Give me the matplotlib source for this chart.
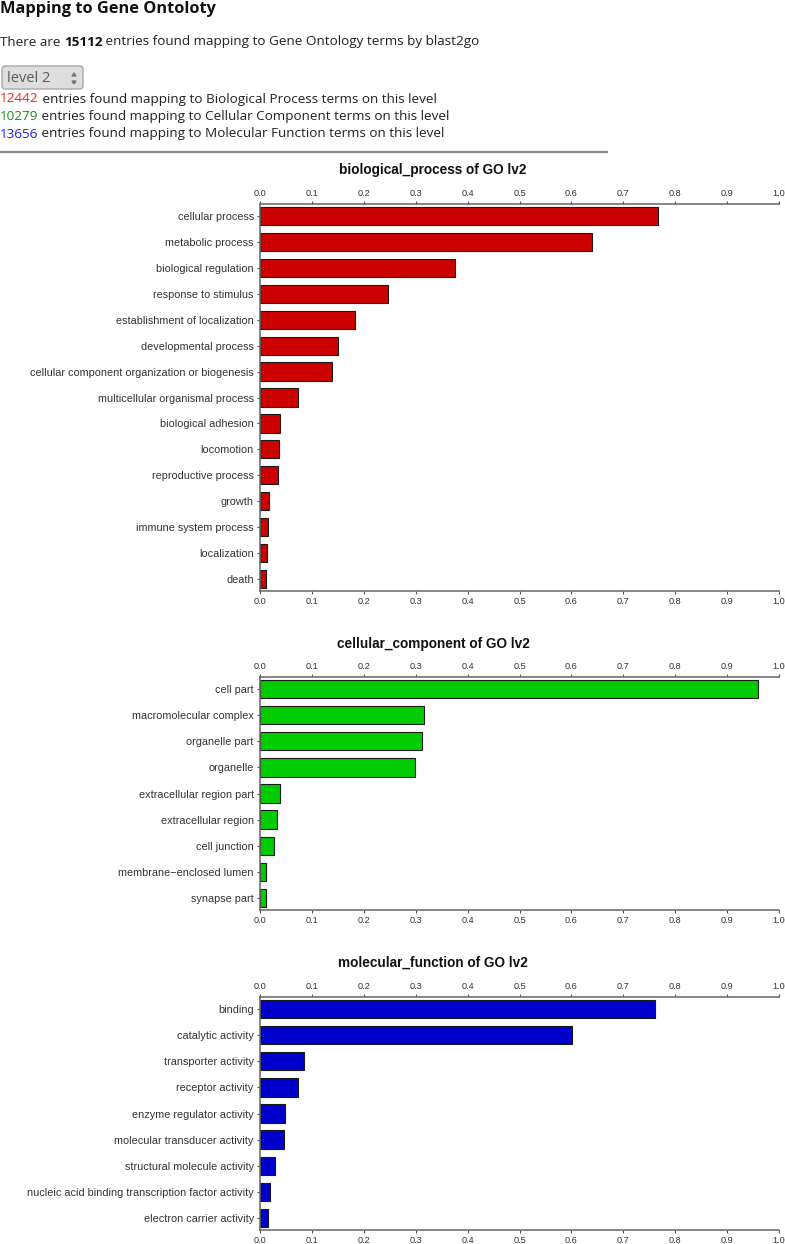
import matplotlib
matplotlib.use("Agg")
import matplotlib.pyplot as plt
from matplotlib import font_manager
from matplotlib.patches import FancyBboxPatch, Polygon
from matplotlib.lines import Line2D
from matplotlib.transforms import IdentityTransform

W, H = 785, 1244

# ---- data ----
bp_terms = ["cellular process", "metabolic process", "biological regulation",
            "response to stimulus", "establishment of localization",
            "developmental process", "cellular component organization or biogenesis",
            "multicellular organismal process", "biological adhesion", "locomotion",
            "reproductive process", "growth", "immune system process",
            "localization", "death"]
bp_values = [0.767, 0.639, 0.376, 0.246, 0.184, 0.150, 0.139, 0.074,
             0.039, 0.037, 0.034, 0.018, 0.016, 0.014, 0.012]

cc_terms = ["cell part", "macromolecular complex", "organelle part", "organelle",
            "extracellular region part", "extracellular region", "cell junction",
            "membrane\u2212enclosed lumen", "synapse part"]
cc_values = [0.959, 0.316, 0.312, 0.299, 0.039, 0.033, 0.027, 0.012, 0.012]

mf_terms = ["binding", "catalytic activity", "transporter activity",
            "receptor activity", "enzyme regulator activity",
            "molecular transducer activity", "structural molecule activity",
            "nucleic acid binding transcription factor activity",
            "electron carrier activity"]
mf_values = [0.762, 0.602, 0.085, 0.073, 0.048, 0.046, 0.028, 0.020, 0.015]

x_ticks = [0.0, 0.1, 0.2, 0.3, 0.4, 0.5, 0.6, 0.7, 0.8, 0.9, 1.0]
x_tick_labels = ["0.0", "0.1", "0.2", "0.3", "0.4", "0.5", "0.6", "0.7", "0.8", "0.9", "1.0"]

total_entries = "15112"
level_counts = ["12442", "10279", "13656"]
level_names = ["Biological Process", "Cellular Component", "Molecular Function"]
level_colors = ["#ff1f1f", "#1e8c1e", "#1c1ced"]

# ---- fonts ----
names = {f.name for f in font_manager.fontManager.ttflist}
if "Liberation Sans Narrow" in names:
    LAB_FONT, lab_size, tick_size = "Liberation Sans Narrow", 9.3, 7.2
else:
    LAB_FONT, lab_size, tick_size = "Liberation Sans", 7.8, 6.6
HEAD_FONT = ["Open Sans", "DejaVu Sans"]


def fx(px):
    return px / W


def fy(py):
    return 1 - py / H


fig = plt.figure(figsize=(W / 100, H / 100), dpi=100)
renderer = fig.canvas.get_renderer()


def put_pieces(x, y, pieces, size):
    for s, color, weight in pieces:
        t = fig.text(fx(x), fy(y), s, color=color, fontweight=weight,
                     fontsize=size, family=HEAD_FONT, va="center", ha="left")
        x += t.get_window_extent(renderer).width


# ---- header ----
fig.text(fx(0), fy(9), "Mapping to Gene Ontoloty", fontsize=11.8, fontweight="bold",
         family=HEAD_FONT, color="#111111", va="center", ha="left")
put_pieces(0, 42, [("There are ", "#222222", "normal"),
                   (total_entries, "#111111", "bold"),
                   (" entries found mapping to Gene Ontology terms by blast2go", "#222222", "normal")], 9.7)

# dropdown
fig.add_artist(FancyBboxPatch((2, H - 89), 81, 23, boxstyle="round,pad=0,rounding_size=3",
                              transform=IdentityTransform(), facecolor="#dedede",
                              edgecolor="#a8a8a8", linewidth=1))
fig.text(fx(7), fy(78), "level 2", fontsize=10.5, family=HEAD_FONT, color="#5a5a5a",
         va="center", ha="left")
fig.add_artist(Polygon([[72, H - 76], [76, H - 76], [74, H - 73]], closed=True,
                       transform=IdentityTransform(), color="#777777"))
fig.add_artist(Polygon([[72, H - 81], [76, H - 81], [74, H - 84]], closed=True,
                       transform=IdentityTransform(), color="#777777"))

for i, (cnt, nm, col) in enumerate(zip(level_counts, level_names, level_colors)):
    put_pieces(0, 99 + i * 17.5, [(cnt, col, "normal"),
                                 (" entries found mapping to " + nm + " terms on this level",
                                  "#222222", "normal")], 9.7)

fig.add_artist(Line2D([0, 607], [H - 152, H - 152], transform=IdentityTransform(),
                      color="#8a8a8a", linewidth=1.6))


# ---- charts ----
def draw_chart(title_y, top, bottom, title, terms, values, color):
    ax = fig.add_axes([fx(260), fy(bottom), (779 - 260) / W, (bottom - top) / H])
    n = len(terms)
    pos = list(range(n))
    ax.barh(pos, values, height=0.7, color=color, edgecolor="#1a1a1a", linewidth=0.8)
    ax.set_xlim(0, 1)
    ax.set_ylim(n - 1 + 0.46, -0.46)
    ax.set_yticks(pos)
    ax.set_yticklabels(terms, fontsize=lab_size, fontfamily=LAB_FONT, color="#333333")
    ax.set_xticks(x_ticks)
    ax.set_xticklabels(x_tick_labels, fontsize=tick_size, fontfamily=LAB_FONT, color="#333333")
    ax.tick_params(axis="x", top=True, labeltop=True, bottom=True, labelbottom=True,
                   length=2.5, width=0.8, color="#555555", pad=1.5)
    ax.tick_params(axis="y", length=2.5, width=0.8, color="#555555", pad=2)
    ax.spines["right"].set_visible(False)
    for sp in ["left", "top", "bottom"]:
        ax.spines[sp].set_color("#666666")
        ax.spines[sp].set_linewidth(1.1)
    fig.text(fx(433), fy(title_y), title, ha="center", va="center", fontweight="bold",
             fontsize=9.8, family="Liberation Sans", color="#111111")


draw_chart(170, 204, 591, "biological_process of GO lv2", bp_terms, bp_values, "#cc0000")
draw_chart(644, 677, 910, "cellular_component of GO lv2", cc_terms, cc_values, "#00cc00")
draw_chart(963, 997, 1230, "molecular_function of GO lv2", mf_terms, mf_values, "#0000cc")

fig.savefig("out.png", dpi=100)
